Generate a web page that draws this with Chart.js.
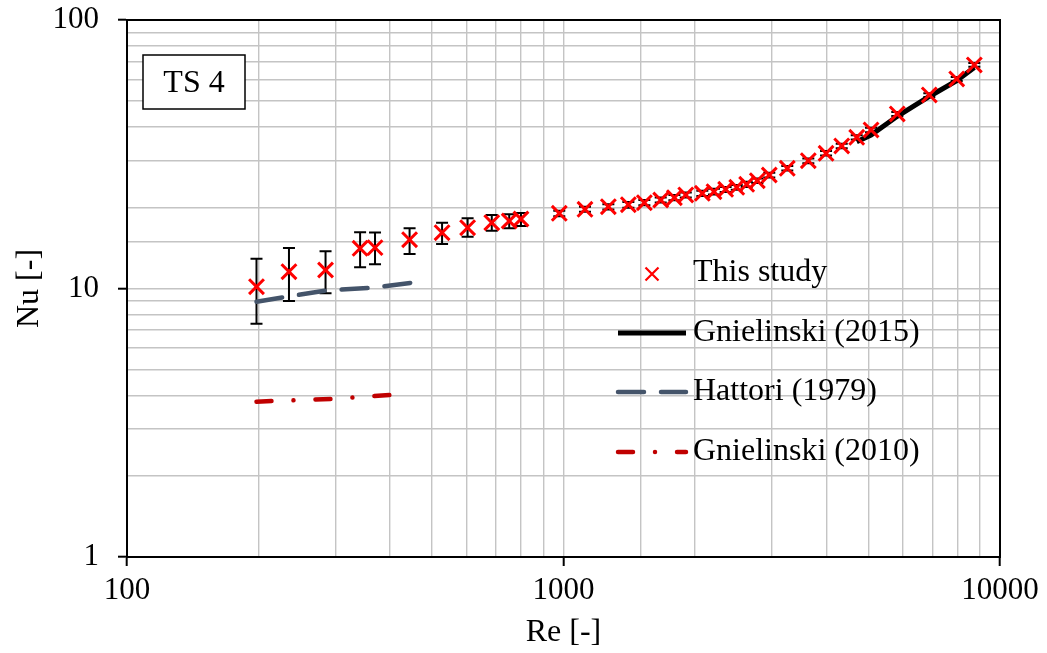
<!DOCTYPE html>
<html>
<head>
<meta charset="utf-8">
<script src="https://cdn.jsdelivr.net/npm/chart.js@4.4.1/dist/chart.umd.min.js"></script>
<style>
  html, body { margin: 0; padding: 0; background: #ffffff; }
  #wrap { width: 1047px; height: 653px; }
</style>
</head>
<body>
<div id="wrap"><canvas id="c" width="1047" height="653"></canvas></div>
<script>
// ---- data ----
const reynolds = [198, 235, 285, 342, 370, 444, 527, 603, 685, 751, 799, 978, 1120, 1267, 1408, 1532, 1670, 1795, 1906, 2080, 2212, 2352, 2494, 2628, 2780, 2961, 3256, 3638, 3995, 4339, 4696, 5065, 5816, 6887, 7959, 8733];
const nusselt  = [10.16, 11.55, 11.72, 14.11, 14.2, 15.2, 16.14, 16.85, 17.58, 17.84, 18.15, 19.06, 19.72, 20.17, 20.52, 20.87, 21.36, 21.79, 22.3, 22.62, 22.94, 23.41, 23.82, 24.44, 25.2, 26.47, 28.04, 29.92, 31.88, 33.95, 36.57, 38.94, 44.67, 52.57, 60.3, 68.0];
const nuLow    = [7.39, 8.98, 9.6, 12.0, 12.3, 13.45, 14.65, 15.6, 16.42, 16.76, 17.1, 18.6, 19.3, 19.7, 20.0, 20.4, 20.9, 21.3, 21.8, 22.1, 22.4, 22.9, 23.3, 23.9, 24.7, 25.9, 27.5, 29.3, 31.3, 33.3, 35.9, 38.2, 43.9, 51.7, 59.3, 66.9];
const nuHigh   = [12.9, 14.15, 13.76, 16.2, 16.15, 16.76, 17.58, 18.25, 18.78, 18.9, 19.1, 19.5, 20.15, 20.6, 21.0, 21.35, 21.8, 22.3, 22.8, 23.1, 23.5, 23.9, 24.3, 25.0, 25.7, 27.0, 28.6, 30.5, 32.5, 34.6, 37.2, 39.7, 45.4, 53.4, 61.3, 69.1];

const gn2015Re = [4696, 5065, 5816, 6887, 7959, 8733];
const gn2015Nu = [35.2, 37.3, 43.8, 51.9, 59.5, 66.6];

const hattoriRe = [198, 230, 289, 366, 447];
const hattoriNu = [8.93, 9.3, 9.85, 10.06, 10.5];

const gn2010Re = [198, 296, 410];
const gn2010Nu = [3.79, 3.88, 4.02];

const seriesNames = ['This study', 'Gnielinski (2015)', 'Hattori (1979)', 'Gnielinski (2010)'];
const xTickLabels = {100: '100', 1000: '1000', 10000: '10000'};
const yTickLabels = {1: '1', 10: '10', 100: '100'};
const xTitle = 'Re [-]';
const yTitle = 'Nu [-]';
const boxLabel = 'TS 4';

// ---- helpers ----
const FONT = "'Liberation Serif', 'Times New Roman', serif";
const pts = (xs, ys) => xs.map((x, i) => ({x: x, y: ys[i]}));
const isPow10 = v => { const e = Math.log10(v); return Math.abs(e - Math.round(e)) < 1e-9; };

const RED = '#FF0000';
const HATT = '#44546A';
const G10 = '#C00000';

const errorBars = {
  id: 'errorBars',
  beforeDatasetsDraw(chart) {
    const {ctx, scales: {x, y}} = chart;
    ctx.save();
    ctx.strokeStyle = '#000';
    ctx.lineWidth = 2;
    for (let i = 0; i < reynolds.length; i++) {
      const px = x.getPixelForValue(reynolds[i]);
      const y1 = y.getPixelForValue(nuLow[i]);
      const y2 = y.getPixelForValue(nuHigh[i]);
      ctx.beginPath();
      ctx.moveTo(px, y1); ctx.lineTo(px, y2);
      ctx.moveTo(px - 6, y1); ctx.lineTo(px + 6, y1);
      ctx.moveTo(px - 6, y2); ctx.lineTo(px + 6, y2);
      ctx.stroke();
    }
    ctx.restore();
  }
};

const decorations = {
  id: 'decorations',
  afterDraw(chart) {
    const {ctx, chartArea: a} = chart;
    ctx.save();
    // frame
    ctx.strokeStyle = '#000';
    ctx.lineWidth = 2;
    ctx.strokeRect(a.left, a.top, a.right - a.left, a.bottom - a.top);
    // TS 4 box
    ctx.fillStyle = '#fff';
    ctx.fillRect(143, 55, 102, 54);
    ctx.lineWidth = 1.5;
    ctx.strokeRect(143, 55, 102, 54);
    ctx.fillStyle = '#000';
    ctx.font = '32px ' + FONT;
    ctx.textAlign = 'center';
    ctx.textBaseline = 'middle';
    ctx.fillText(boxLabel, 194, 84);
    // legend
    const ds = chart.data.datasets;
    const rows = [273, 333, 392, 452];
    ctx.textAlign = 'left';
    for (let i = 0; i < ds.length; i++) {
      const yy = rows[i];
      const d = ds[i];
      if (i === 0) {
        ctx.strokeStyle = d.borderColor;
        ctx.lineWidth = 2.2;
        const o = 6.5;
        ctx.beginPath();
        ctx.moveTo(652 - o, yy + 1 - o); ctx.lineTo(652 + o, yy + 1 + o);
        ctx.moveTo(652 - o, yy + 1 + o); ctx.lineTo(652 + o, yy + 1 - o);
        ctx.stroke();
      } else {
        ctx.strokeStyle = d.borderColor;
        ctx.lineWidth = d.borderWidth;
        ctx.lineCap = d.borderCapStyle || 'butt';
        ctx.setLineDash(d.borderDash || []);
        ctx.beginPath();
        ctx.moveTo(618, yy); ctx.lineTo(686, yy);
        ctx.stroke();
        ctx.setLineDash([]);
        ctx.lineCap = 'butt';
      }
      ctx.fillStyle = '#000';
      ctx.font = '32px ' + FONT;
      ctx.fillText(seriesNames[i], 693, yy);
    }
    ctx.restore();
  }
};

const tickColorFn = ctx => (ctx.tick && isPow10(ctx.tick.value)) ? '#000' : 'rgba(0,0,0,0)';

new Chart(document.getElementById('c'), {
  type: 'scatter',
  data: {
    datasets: [
      {
        label: seriesNames[0],
        data: pts(reynolds, nusselt),
        showLine: false,
        pointStyle: 'crossRot',
        pointRadius: 10.5,
        pointHoverRadius: 10.5,
        pointBorderWidth: 3,
        borderColor: RED,
        backgroundColor: RED
      },
      {
        label: seriesNames[1],
        data: pts(gn2015Re, gn2015Nu),
        showLine: true,
        pointRadius: 0,
        borderColor: '#000',
        borderWidth: 5,
        borderCapStyle: 'butt'
      },
      {
        label: seriesNames[2],
        data: pts(hattoriRe, hattoriNu),
        showLine: true,
        pointRadius: 0,
        borderColor: HATT,
        borderWidth: 4.5,
        borderCapStyle: 'round',
        borderDash: [26, 17]
      },
      {
        label: seriesNames[3],
        data: pts(gn2010Re, gn2010Nu),
        showLine: true,
        pointRadius: 0,
        borderColor: G10,
        borderWidth: 4.5,
        borderCapStyle: 'round',
        borderDash: [15, 22, 0.01, 22]
      }
    ]
  },
  options: {
    responsive: false,
    devicePixelRatio: 1,
    animation: false,
    events: [],
    layout: { padding: { top: 20, right: 47, left: 0, bottom: 0 } },
    plugins: { legend: { display: false }, tooltip: { enabled: false } },
    scales: {
      x: {
        type: 'logarithmic',
        position: 'bottom',
        min: 100, max: 10000,
        afterFit: s => { s.height = 96; s.paddingLeft = 0; s.paddingRight = 0; },
        ticks: {
          autoSkip: false, maxRotation: 0, minRotation: 0,
          color: '#000', font: { family: FONT, size: 31 }, padding: 6,
          callback: v => xTickLabels[Math.round(v)] !== undefined && isPow10(v) ? xTickLabels[Math.round(v)] : ''
        },
        grid: { color: '#c4c4c4', lineWidth: 1.4, tickLength: 9, tickColor: tickColorFn, tickWidth: 2 },
        border: { color: '#000', width: 2 },
        title: { display: true, text: xTitle, color: '#000', font: { family: FONT, size: 32 }, padding: { top: 0, bottom: 1 } }
      },
      y: {
        type: 'logarithmic',
        position: 'left',
        min: 1, max: 100,
        afterFit: s => { s.width = 127; s.paddingTop = 0; s.paddingBottom = 0; },
        ticks: {
          autoSkip: false,
          color: '#000', font: { family: FONT, size: 31 }, padding: 19,
          callback: v => yTickLabels[Math.round(v)] !== undefined && isPow10(v) ? yTickLabels[Math.round(v)] : ''
        },
        grid: { color: '#c4c4c4', lineWidth: 1.4, tickLength: 9, tickColor: tickColorFn, tickWidth: 2 },
        border: { color: '#000', width: 2 },
        title: { display: true, text: yTitle, color: '#000', font: { family: FONT, size: 32 }, padding: { top: 10, bottom: 0 } }
      }
    }
  },
  plugins: [errorBars, decorations]
});
</script>
</body>
</html>
